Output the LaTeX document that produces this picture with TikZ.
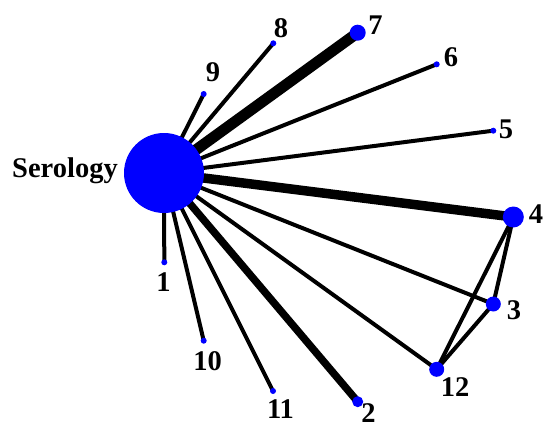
\documentclass[tikz,border=0pt]{standalone}
\usepackage{fontspec}
\setmainfont{Liberation Serif}
\usepackage{tikz}
\usetikzlibrary{positioning,backgrounds}
\usepackage{xcolor}
\definecolor{netblue}{RGB}{0,0,255}

\tikzset{
  trt/.style={circle,fill=netblue,inner sep=0pt,minimum size=#1},
  trt/.default=6pt,
  lab/.style={inner sep=0pt,font=\fontsize{28.5}{30}\selectfont\bfseries},
  edge/.style={line width=#1,draw=black},
  edge/.default=4pt
}

\begin{document}
\begin{tikzpicture}[x=1pt,y=-1pt]
                    \useasboundingbox (0,0) rectangle (543,428);
                    % treatments
                    \node[trt=80pt] (ser) at (164,173) {};
                    \node[trt] (n1) at (164.3,262.3) {};
                    \node[trt=11pt] (n2) at (357.7,401.7) {};
                    \node[trt=15pt] (n3) at (493.3,304) {};
                    \node[trt=21pt] (n4) at (513.3,217) {};
                    \node[trt] (n5) at (493.3,130.7) {};
                    \node[trt] (n6) at (436.7,64.3) {};
                    \node[trt=16pt] (n7) at (357.7,32.7) {};
                    \node[trt] (n8) at (273.3,43.3) {};
                    \node[trt] (n9) at (203.7,94) {};
                    \node[trt] (n10) at (203.7,340.7) {};
                    \node[trt] (n11) at (273,391) {};
                    \node[trt=15pt] (n12) at (436.7,369.3) {};
                    % labels
                    \node[lab,anchor=base] (lser) at (65,177) {Serology};
                    \node[lab] (l1) at (163.5,282.5) {1};
                    \node[lab] (l2) at (368.5,413) {2};
                    \node[lab] (l3) at (514,310.5) {3};
                    \node[lab] (l4) at (536,214) {4};
                    \node[lab] (l5) at (506,129.5) {5};
                    \node[lab] (l6) at (451,57) {6};
                    \node[lab] (l7) at (375.5,25.5) {7};
                    \node[lab] (l8) at (281,28) {8};
                    \node[lab] (l9) at (213,72.5) {9};
                    \node[lab] (l10) at (207.5,361.5) {10};
                    \node[lab] (l11) at (280.5,409.5) {11};
                    \node[lab] (l12) at (455,387) {12};
                    % comparisons
                    \begin{scope}[on background layer]
                        \foreach \t in {n1,n3,n5,n6,n8,n9,n10,n11,n12}
                            \draw[edge] (ser.center) -- (\t.center);
                        \draw[edge=11pt] (ser.center) -- (n7.center);
                        \draw[edge=9.5pt] (ser.center) -- (n4.center);
                        \draw[edge=7.5pt] (ser.center) -- (n2.center);
                        \draw[edge] (n4.center) -- (n3.center);
                        \draw[edge] (n4.center) -- (n12.center);
                        \draw[edge] (n3.center) -- (n12.center);
                    \end{scope}
                \end{tikzpicture}
\end{document}
